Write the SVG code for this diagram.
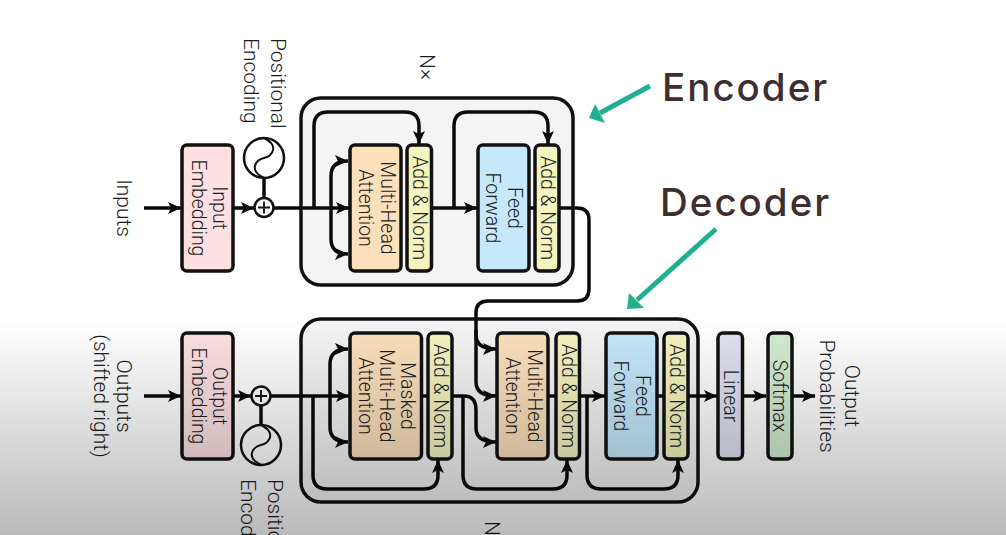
<svg xmlns="http://www.w3.org/2000/svg" width="1006" height="535" viewBox="0 0 1006 535">
<style>
.box{stroke:#111;stroke-width:3.5}
.big{fill:#f4f4f4;stroke:#111;stroke-width:3.5}
.w{fill:none;stroke:#0a0a0a;stroke-width:3.5}
.t{font-family:Roboto,"Liberation Sans",Arial,sans-serif;font-weight:300;font-size:19.500px;fill:#1c1c1c;text-anchor:middle}
.l{font-size:21px;}
.s{text-anchor:start}
.n{font-size:21px;text-anchor:start}
.h{font-family:Inter,Lato,sans-serif;font-size:38.500px;font-weight:500;letter-spacing:2px;fill:#3f2d30}
.teal{fill:none;stroke:#20b08f;stroke-width:5}
.th{fill:#20b08f}
</style>
<defs>
<marker id="a" markerUnits="userSpaceOnUse" markerWidth="14" markerHeight="12" refX="13" refY="6" orient="auto"><path d="M0 0L13 6L0 12L3 6Z" fill="#0a0a0a"/></marker>
<linearGradient id="shade" x1="0" y1="0" x2="0" y2="1"><stop offset="0" stop-color="#000" stop-opacity="0"/><stop offset="1" stop-color="#000" stop-opacity=".27"/></linearGradient>
</defs>
<rect width="1006" height="535" fill="#fff"/>
<g id="encoder-frame"><rect class="big" x="301" y="98" width="272" height="187" rx="20"/></g>
<g id="decoder-frame"><rect class="big" x="301" y="319" width="397" height="183" rx="20"/></g>
<g id="connectors">
<path class="w" marker-end="url(#a)" d="M144 208H181"/>
<path class="w" marker-end="url(#a)" d="M233 208H254"/>
<path class="w" d="M264 178V198"/>
<path class="w" marker-end="url(#a)" d="M274 208H349"/>
<path class="w" marker-end="url(#a)" d="M331 208V176Q331 161 348 161"/>
<path class="w" marker-end="url(#a)" d="M331 208V239Q331 254 348 254"/>
<path class="w" marker-end="url(#a)" d="M314 208V126Q314 112 328 112H405Q419 112 419 126V144"/>
<path class="w" marker-end="url(#a)" d="M432 208H477"/>
<path class="w" marker-end="url(#a)" d="M454 208V126Q454 112 468 112H534Q548 112 548 126V144"/>
<path class="w" d="M529 208H535"/>
<path class="w" marker-end="url(#a)" d="M559 208H577Q589 208 589 220V289Q589 301 577 301H488Q476 301 476 313V335Q476 349 496 349"/>
<path class="w" marker-end="url(#a)" d="M476 330V382Q476 396 496 396"/>
<path class="w" marker-end="url(#a)" d="M144 396H181"/>
<path class="w" marker-end="url(#a)" d="M233 396H251"/>
<path class="w" d="M261 406V425"/>
<path class="w" marker-end="url(#a)" d="M271 396H349"/>
<path class="w" marker-end="url(#a)" d="M330 396V364Q330 349 348 349"/>
<path class="w" marker-end="url(#a)" d="M330 396V427Q330 442 348 442"/>
<path class="w" marker-end="url(#a)" d="M313 396V475Q313 489 327 489H424Q438 489 438 475V460"/>
<path class="w" d="M422 396H428"/>
<path class="w" marker-end="url(#a)" d="M452 396H464Q476 396 476 410V428Q476 442 496 442"/>
<path class="w" marker-end="url(#a)" d="M463 396V475Q463 489 477 489H553Q567 489 567 475V460"/>
<path class="w" d="M548 396H556"/>
<path class="w" marker-end="url(#a)" d="M579 396H605"/>
<path class="w" marker-end="url(#a)" d="M587 396V475Q587 489 601 489H664Q678 489 678 475V460"/>
<path class="w" d="M657 396H664"/>
<path class="w" marker-end="url(#a)" d="M688 396H717"/>
<path class="w" marker-end="url(#a)" d="M743 396H766"/>
<path class="w" marker-end="url(#a)" d="M792 396H815"/>
</g>
<g id="inputs"><text class="t l" transform="translate(117 208) rotate(90)">Inputs</text></g>
<g id="input-embedding"><rect class="box" x="182" y="145" width="51" height="126" rx="5" fill="#fde0e3"/>
<text class="t" transform="translate(213 208) rotate(90)">Input</text><text class="t" transform="translate(191.500 208) rotate(90)">Embedding</text></g>
<g id="pos-enc-top"><circle cx="264" cy="158" r="20" fill="#fff" stroke="#111" stroke-width="2.500"/><path d="M264 138C280 146 272 156 264 158C256 160 248 170 264 178" fill="none" stroke="#111" stroke-width="2"/>
<circle cx="264" cy="207.500" r="9.500" fill="#fff" stroke="#111" stroke-width="2.500"/><path d="M258 207.500H270M264 201.500V213.500" stroke="#111" stroke-width="1.800"/>
<text class="t l s" transform="translate(271 38) rotate(90)">Positional</text><text class="t l s" transform="translate(244 38) rotate(90)">Encoding</text></g>
<g id="enc-attention"><rect class="box" x="350" y="145" width="51" height="126" rx="5" fill="#fbe0bb"/>
<text class="t" transform="translate(381 208) rotate(90)">Multi-Head</text><text class="t" transform="translate(359 208) rotate(90)">Attention</text></g>
<g id="enc-norm-1"><rect class="box" x="407" y="145" width="24.500" height="126" rx="5" fill="#f4f4bf"/><text class="t" transform="translate(412.500 208) rotate(90)">Add &amp; Norm</text></g>
<g id="enc-ff"><rect class="box" x="478" y="145" width="51" height="126" rx="5" fill="#c5e8fb"/>
<text class="t" transform="translate(508 208) rotate(90)">Feed</text><text class="t" transform="translate(486 208) rotate(90)">Forward</text></g>
<g id="enc-norm-2"><rect class="box" x="535" y="145" width="24" height="126" rx="5" fill="#f4f4bf"/><text class="t" transform="translate(540.500 208) rotate(90)">Add &amp; Norm</text></g>
<g id="nx-top"><text class="t n" transform="translate(420 54) rotate(90)">N×</text></g>
<g id="outputs"><text class="t l" transform="translate(117 396) rotate(90)">Outputs</text><text class="t l" transform="translate(94 396) rotate(90)">(shifted right)</text></g>
<g id="output-embedding"><rect class="box" x="182" y="333" width="51" height="126" rx="5" fill="#fde0e3"/>
<text class="t" transform="translate(213 396) rotate(90)">Output</text><text class="t" transform="translate(191.500 396) rotate(90)">Embedding</text></g>
<g id="pos-enc-bottom"><circle cx="261" cy="445" r="20" fill="#fff" stroke="#111" stroke-width="2.500"/><path d="M261 425C277 433 269 443 261 445C253 447 245 457 261 465" fill="none" stroke="#111" stroke-width="2"/>
<circle cx="261" cy="396" r="9.500" fill="#fff" stroke="#111" stroke-width="2.500"/><path d="M255 396H267M261 390V402" stroke="#111" stroke-width="1.800"/>
<text class="t l s" transform="translate(268 479) rotate(90)">Positional</text><text class="t l s" transform="translate(241 479) rotate(90)">Encoding</text></g>
<g id="masked-attention"><rect class="box" x="350" y="333" width="71.500" height="126" rx="5" fill="#fbe0bb"/>
<text class="t" transform="translate(401 396) rotate(90)">Masked</text><text class="t" transform="translate(380 396) rotate(90)">Multi-Head</text><text class="t" transform="translate(359 396) rotate(90)">Attention</text></g>
<g id="dec-norm-1"><rect class="box" x="428" y="333" width="24" height="126" rx="5" fill="#f4f4bf"/><text class="t" transform="translate(433.500 396) rotate(90)">Add &amp; Norm</text></g>
<g id="dec-attention"><rect class="box" x="497" y="333" width="51" height="126" rx="5" fill="#fbe0bb"/>
<text class="t" transform="translate(528 396) rotate(90)">Multi-Head</text><text class="t" transform="translate(506 396) rotate(90)">Attention</text></g>
<g id="dec-norm-2"><rect class="box" x="556" y="333" width="23.500" height="126" rx="5" fill="#f4f4bf"/><text class="t" transform="translate(561.500 396) rotate(90)">Add &amp; Norm</text></g>
<g id="dec-ff"><rect class="box" x="606" y="333" width="51" height="126" rx="5" fill="#c5e8fb"/>
<text class="t" transform="translate(636 396) rotate(90)">Feed</text><text class="t" transform="translate(614 396) rotate(90)">Forward</text></g>
<g id="dec-norm-3"><rect class="box" x="664" y="333" width="24" height="126" rx="5" fill="#f4f4bf"/><text class="t" transform="translate(669.500 396) rotate(90)">Add &amp; Norm</text></g>
<g id="linear"><rect class="box" x="718" y="333" width="24.500" height="126" rx="5" fill="#dfe1f1"/><text class="t" transform="translate(723.500 396) rotate(90)">Linear</text></g>
<g id="softmax"><rect class="box" x="768" y="333" width="24" height="126" rx="5" fill="#d3ecd1"/><text class="t" transform="translate(773 396) rotate(90)">Softmax</text></g>
<g id="output-probs"><text class="t l" transform="translate(845 396) rotate(90)">Output</text><text class="t l" transform="translate(820 396) rotate(90)">Probabilities</text></g>
<g id="nx-bottom"><text class="t n" transform="translate(485 521) rotate(90)">N×</text></g>
<g id="encoder-label"><text class="h" x="662" y="101">Encoder</text><path class="teal" d="M650 86L600 113"/><path class="th" d="M589 118L595 104L605 123Z"/></g>
<g id="decoder-label"><text class="h" x="660" y="216">Decoder</text><path class="teal" d="M716 229L637 300"/><path class="th" d="M627 309L629 293L644 308Z"/></g>
<rect id="shade-overlay" x="0" y="320" width="1006" height="215" fill="url(#shade)"/>
</svg>
